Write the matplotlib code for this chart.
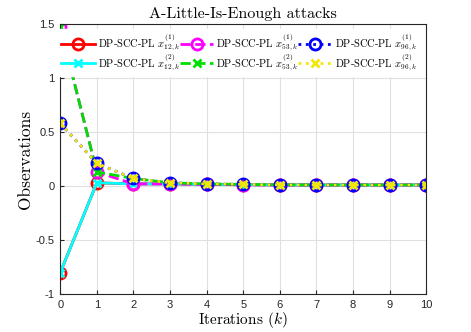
import numpy as np
import matplotlib
matplotlib.use("Agg")
import matplotlib.pyplot as plt

plt.rcParams['font.family'] = ['Liberation Sans', 'DejaVu Sans']
plt.rcParams['mathtext.fontset'] = 'cm'
plt.rcParams['axes.formatter.use_mathtext'] = False

# --- data
k = np.arange(0, 11)
x12_1 = [-0.80, 0.03, 0.02, 0.02, 0.015, 0.012, 0.01, 0.01, 0.01, 0.01, 0.01]
x12_2 = [-0.80, 0.03, 0.02, 0.02, 0.015, 0.012, 0.01, 0.01, 0.01, 0.01, 0.01]
x53_1 = [1.47, 0.13, 0.02, 0.02, 0.015, 0.012, 0.01, 0.01, 0.01, 0.01, 0.01]
x53_2 = [1.47, 0.13, 0.07, 0.03, 0.02, 0.015, 0.012, 0.01, 0.01, 0.01, 0.01]
x96_1 = [0.58, 0.21, 0.07, 0.03, 0.02, 0.015, 0.012, 0.01, 0.01, 0.01, 0.01]
x96_2 = [0.58, 0.21, 0.07, 0.03, 0.02, 0.015, 0.012, 0.01, 0.01, 0.01, 0.01]

serif = ['cmr10', 'DejaVu Serif']

fig = plt.figure(figsize=(4.71, 3.32), dpi=100)
ax = fig.add_axes([0.128, 0.114, 0.777, 0.814])

lw = 2
ms = 8
ax.plot(k, x12_1, '-', color='red', lw=lw, marker='o', ms=ms, mfc='none', mew=2,
        label=r'DP-SCC-PL $x_{12,k}^{(1)}$')
ax.plot(k, x12_2, '-', color='cyan', lw=lw, marker='x', ms=6, mew=2,
        label=r'DP-SCC-PL $x_{12,k}^{(2)}$')
ax.plot(k, x53_1, '--', color='magenta', lw=lw, marker='o', ms=ms, mfc='none', mew=2,
        label=r'DP-SCC-PL $x_{53,k}^{(1)}$')
ax.plot(k, x53_2, '--', color='#00e000', lw=lw, marker='x', ms=6, mew=2,
        label=r'DP-SCC-PL $x_{53,k}^{(2)}$')
ax.plot(k, x96_1, ':', color='blue', lw=lw, marker='o', ms=ms, mfc='none', mew=2,
        label=r'DP-SCC-PL $x_{96,k}^{(1)}$')
ax.plot(k, x96_2, ':', color='#f5e60a', lw=lw, marker='x', ms=6, mew=2,
        label=r'DP-SCC-PL $x_{96,k}^{(2)}$')

ax.set_xlim(0, 10)
ax.set_ylim(-1, 1.5)
ax.set_xticks(range(0, 11))
ax.set_yticks([-1, -0.5, 0, 0.5, 1, 1.5])
ax.set_yticklabels(['-1', '-0.5', '0', '0.5', '1', '1.5'])
ax.tick_params(labelsize=8, direction='in', length=3, colors='#262626', pad=4)
ax.grid(True, color='#e0e0e0', lw=0.8)
for s in ax.spines.values():
    s.set_color('#262626')
    s.set_linewidth(0.8)

ax.set_title('A-Little-Is-Enough attacks', family=serif, fontsize=11.5, pad=4)
ax.set_xlabel(r'Iterations ($k$)', family=serif, fontsize=11, labelpad=0)
ax.set_ylabel('Observations', family=serif, fontsize=12.5, labelpad=2)

leg = ax.legend(ncol=3, loc='upper left', bbox_to_anchor=(-0.02, 1.0),
                prop={'family': serif, 'size': 7.5},
                handlelength=3.2, handletextpad=0.3, columnspacing=0.0,
                labelspacing=-0.18, borderpad=0.3, frameon=True, fancybox=False,
                framealpha=1, edgecolor='white')

fig.savefig('out.png', dpi=100)
